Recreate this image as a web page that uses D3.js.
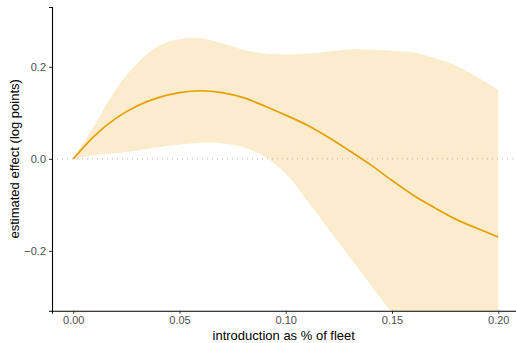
<!DOCTYPE html>
<html>
<head>
<meta charset="utf-8">
<script src="https://cdn.jsdelivr.net/npm/d3@7"></script>
<style>
  body { margin: 0; background: #fff; }
  svg { display: block; font-family: "Liberation Sans", Arial, sans-serif; }
</style>
</head>
<body>
<svg id="chart" width="516" height="343"></svg>
<script>
// share of fleet (x grid)
var share = [0, 0.01, 0.02, 0.03, 0.04, 0.05, 0.06, 0.07, 0.08, 0.09, 0.10,
             0.11, 0.12, 0.13, 0.14, 0.15, 0.16, 0.17, 0.18, 0.19, 0.20];
// estimated effect
var effect = [0, 0.050, 0.088, 0.115, 0.133, 0.144, 0.148, 0.144, 0.133, 0.115, 0.095,
              0.0735, 0.047, 0.0175, -0.013, -0.047, -0.079, -0.106, -0.131, -0.151, -0.170];
// confidence band
var upper = [0, 0.073, 0.150, 0.207, 0.245, 0.260, 0.262, 0.251, 0.237, 0.229, 0.227,
             0.229, 0.233, 0.2377, 0.237, 0.235, 0.231, 0.219, 0.203, 0.178, 0.150];
var lower = [0, 0.008, 0.012, 0.018, 0.025, 0.031, 0.035, 0.034, 0.025, 0.005, -0.032,
             -0.09, -0.152, -0.213, -0.274, -0.335, -0.39, -0.44, -0.49, -0.54, -0.59];

var xTicks = [0, 0.05, 0.10, 0.15, 0.20];
var yTicks = [-0.2, 0, 0.2];

var svg = d3.select("#chart");

// panel edges
var pLeft = 52, pRight = 519.5, pTop = 7, pBottom = 310.7;

var x = d3.scaleLinear().domain([-0.01, 0.21]).range([pLeft, pRight]);
var y = d3.scaleLinear().domain([-0.33, 0.33]).range([pBottom, pTop]);

var pts = share.map(function (d, i) {
  return { x: d, y: effect[i], lo: lower[i], hi: upper[i] };
});

var smooth = d3.curveCatmullRom.alpha(0.5);

svg.append("clipPath").attr("id", "clip")
  .append("rect")
  .attr("x", pLeft).attr("y", pTop)
  .attr("width", pRight - pLeft).attr("height", pBottom - pTop);

var panel = svg.append("g").attr("clip-path", "url(#clip)");

// ribbon
panel.append("path")
  .datum(pts)
  .attr("fill", "#FAECCC")
  .attr("d", d3.area()
    .curve(smooth)
    .x(function (d) { return x(d.x); })
    .y0(function (d) { return y(d.lo); })
    .y1(function (d) { return y(d.hi); }));

// zero reference line
panel.append("line")
  .attr("x1", pLeft).attr("x2", pRight)
  .attr("y1", y(0)).attr("y2", y(0))
  .attr("stroke", "#b3b3b3")
  .attr("stroke-width", 1)
  .attr("stroke-dasharray", "1,4");

// effect line
panel.append("path")
  .datum(pts)
  .attr("fill", "none")
  .attr("stroke", "#E69F00")
  .attr("stroke-width", 1.7)
  .attr("d", d3.line()
    .curve(smooth)
    .x(function (d) { return x(d.x); })
    .y(function (d) { return y(d.y); }));

// axes
var fmtY = function (d) { return d3.format(".1f")(d).replace("-", "\u2212"); };

var gx = svg.append("g")
  .attr("transform", "translate(0," + pBottom + ")")
  .call(d3.axisBottom(x).tickValues(xTicks).tickFormat(d3.format(".2f")).tickSize(3).tickPadding(3));
var gy = svg.append("g")
  .attr("transform", "translate(" + pLeft + ",0)")
  .call(d3.axisLeft(y).tickValues(yTicks).tickFormat(fmtY).tickSize(3).tickPadding(3));

[gx, gy].forEach(function (g) {
  g.select(".domain").attr("stroke", "#000").attr("stroke-width", 1.1);
  g.selectAll(".tick line").attr("stroke", "#333").attr("stroke-width", 1);
  g.selectAll(".tick text").attr("fill", "#4d4d4d").style("font-size", "11px");
});

// axis titles
svg.append("text")
  .attr("x", (pLeft + pRight) / 2 - 2)
  .attr("y", 340)
  .attr("text-anchor", "middle")
  .style("font-size", "13px")
  .attr("fill", "#000")
  .text("introduction as % of fleet");

svg.append("text")
  .attr("transform", "translate(19," + (pTop + pBottom) / 2 + ") rotate(-90)")
  .attr("text-anchor", "middle")
  .style("font-size", "13px")
  .attr("fill", "#000")
  .text("estimated effect (log points)");
</script>
</body>
</html>
